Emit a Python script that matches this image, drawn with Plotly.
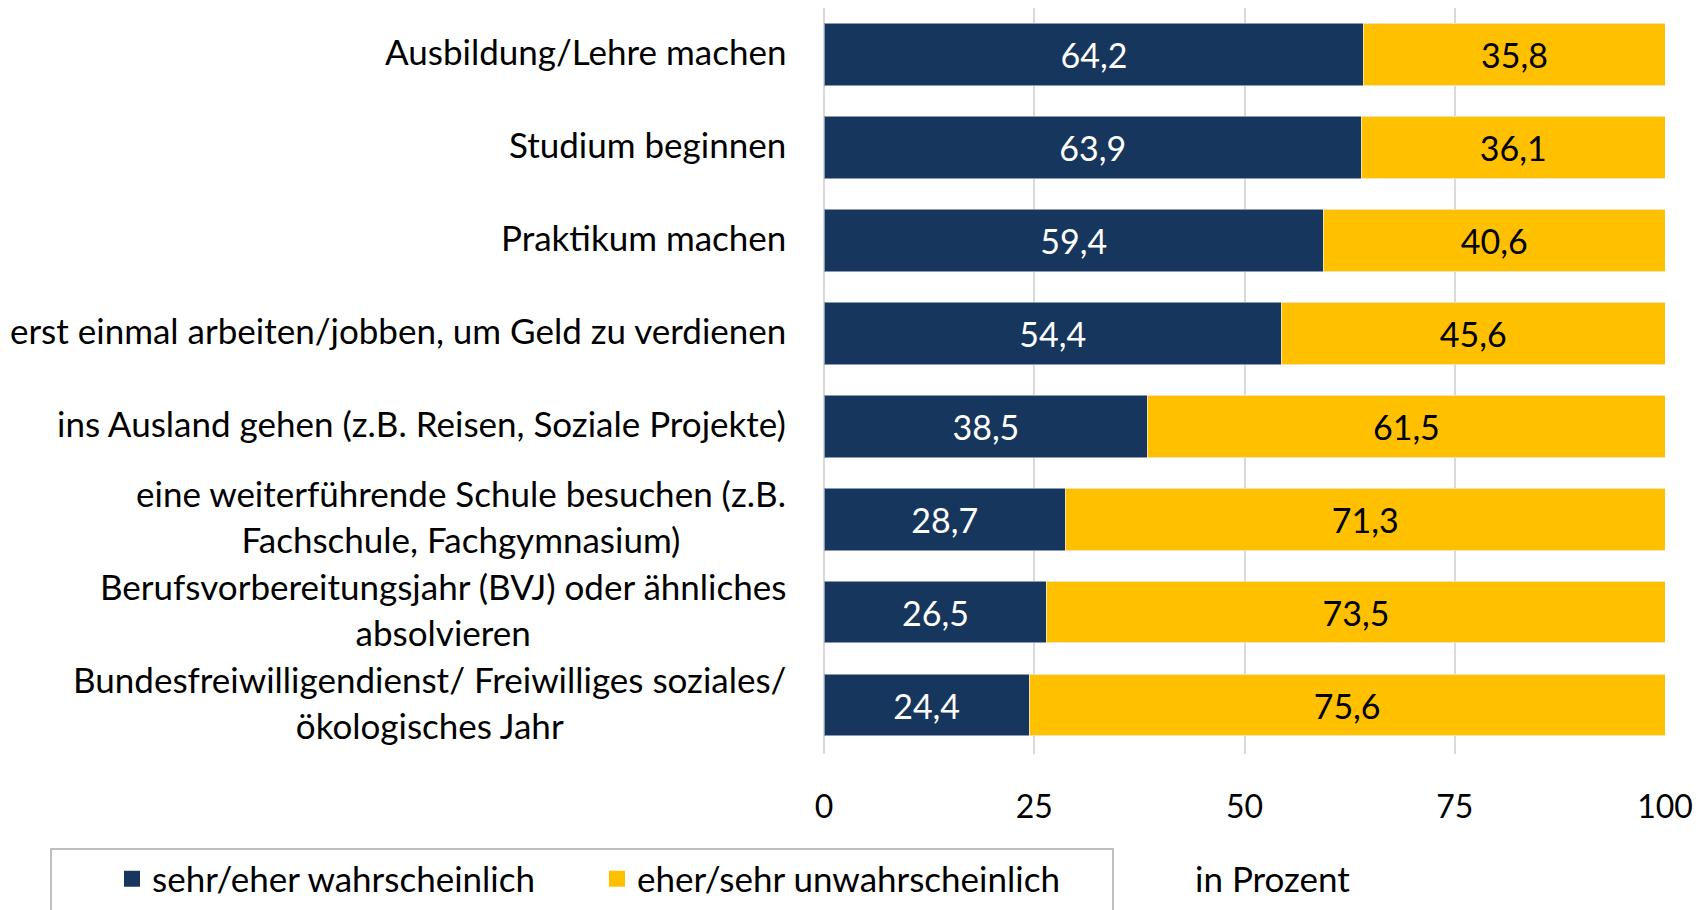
import plotly.graph_objects as go

categories = [
    "Ausbildung/Lehre machen",
    "Studium beginnen",
    "Praktikum machen",
    "erst einmal arbeiten/jobben, um Geld zu verdienen",
    "ins Ausland gehen (z.B. Reisen, Soziale Projekte)",
    "eine weiterführende Schule besuchen (z.B.<br>Fachschule, Fachgymnasium)",
    "Berufsvorbereitungsjahr (BVJ) oder ähnliches<br>absolvieren",
    "Bundesfreiwilligendienst/ Freiwilliges soziales/<br>ökologisches Jahr",
]
likely = [64.2, 63.9, 59.4, 54.4, 38.5, 28.7, 26.5, 24.4]
unlikely = [35.8, 36.1, 40.6, 45.6, 61.5, 71.3, 73.5, 75.6]
series_names = ["sehr/eher wahrscheinlich", "eher/sehr unwahrscheinlich"]
series_colors = ["#17365D", "#FFC000"]
x_ticks = [0, 25, 50, 75, 100]

FONT = "Lato"
W, H = 1707, 910
OFF = 8  # page body margin offset
L, R, T, B = 824 - OFF, 42 + OFF, 0, 156 + OFF
PW = W - L - R
PH = H - T - B

def px_x(px):
    return (px - OFF - L) / PW

def px_y(py):
    return (H - B - (py - OFF)) / PH

fig = go.Figure()
fig.add_trace(go.Bar(
    y=categories, x=likely, name=series_names[0], orientation="h",
    marker=dict(color=series_colors[0], line=dict(color="#8A9BB3", width=1)),
    texttemplate="%{x:.1f}", textposition="inside", insidetextanchor="middle",
    textangle=0, textfont=dict(family=FONT, size=34, color="white"),
    showlegend=False, legendgroup="a",
))
fig.add_trace(go.Bar(
    y=categories, x=unlikely, name=series_names[1], orientation="h",
    marker=dict(color=series_colors[1], line=dict(color="#F2E3B0", width=1)),
    texttemplate="%{x:.1f}", textposition="inside", insidetextanchor="middle",
    textangle=0, textfont=dict(family=FONT, size=34, color="black"),
    showlegend=False, legendgroup="b",
))
# legend entries with larger square symbols
for name, color, grp in zip(series_names, series_colors, ["a", "b"]):
    fig.add_trace(go.Scatter(
        x=[None], y=[None], mode="markers", name=name, legendgroup=grp,
        marker=dict(symbol="square", size=20, color=color),
        showlegend=True, hoverinfo="skip",
    ))

for cat in categories:
    fig.add_annotation(
        x=px_x(788), xref="paper", y=cat, yref="y", yshift=3,
        text=cat, showarrow=False, xanchor="right", yanchor="middle",
        align="center", font=dict(family=FONT, size=35, color="black"),
    )

fig.add_annotation(
    x=px_x(1272), xref="paper", y=px_y(878), yref="paper",
    text="in Prozent", showarrow=False, xanchor="center", yanchor="middle",
    font=dict(family=FONT, size=35, color="black"),
)

fig.add_shape(
    type="rect", xref="paper", yref="paper",
    x0=px_x(51), x1=px_x(1113), y0=px_y(849), y1=px_y(925),
    line=dict(color="#BFBFBF", width=2), fillcolor="rgba(0,0,0,0)", layer="above",
)

fig.update_layout(
    width=W, height=H,
    margin=dict(l=L, r=R, t=T, b=B, pad=0),
    barmode="stack", bargap=0.335,
    separators=",.",
    plot_bgcolor="white", paper_bgcolor="white",
    font=dict(family=FONT, size=32, color="black"),
    uniformtext=dict(mode=False),
    showlegend=True,
    legend=dict(
        orientation="h", x=px_x(112), y=px_y(879), xanchor="left", yanchor="middle",
        xref="paper", yref="paper",
        font=dict(family=FONT, size=35, color="black"),
        entrywidth=440, entrywidthmode="pixels",
        itemwidth=30, bgcolor="rgba(0,0,0,0)", borderwidth=0,
        traceorder="normal",
    ),
    xaxis=dict(
        range=[0, 100], tickvals=x_ticks, showgrid=True, gridcolor="#D9D9D9", gridwidth=1.5,
        zeroline=True, zerolinecolor="#D9D9D9", zerolinewidth=1.5,
        showline=False, ticks="", ticklabelstandoff=31,
        tickfont=dict(family=FONT, size=32, color="black"),
        fixedrange=True,
    ),
    yaxis=dict(
        categoryorder="array", categoryarray=categories, autorange="reversed",
        showticklabels=False, showgrid=False, ticks="", showline=False,
        fixedrange=True,
    ),
)

fig.write_html("out.html")
